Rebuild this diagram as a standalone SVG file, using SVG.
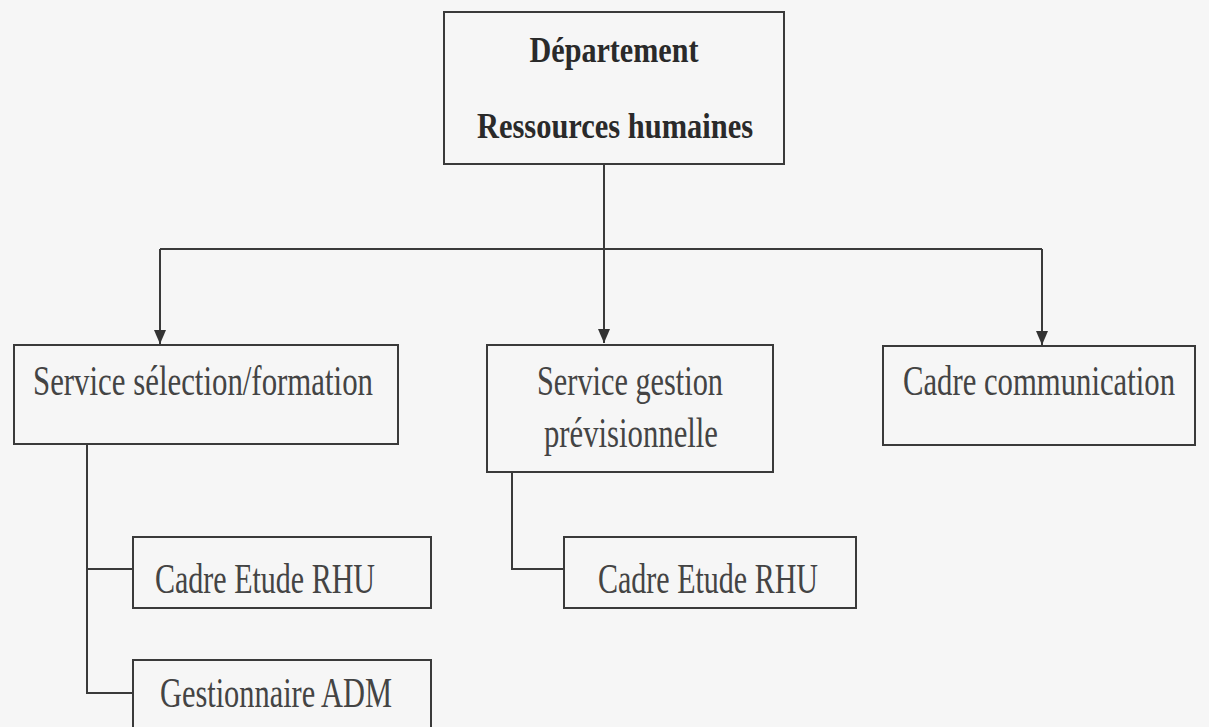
<svg xmlns="http://www.w3.org/2000/svg" width="1209" height="727" viewBox="0 0 1209 727">
  <defs>
    <marker id="arrow" viewBox="0 0 14 12" refX="14" refY="6" markerWidth="14" markerHeight="12" markerUnits="userSpaceOnUse" orient="auto">
      <path d="M0 0 L14 6 L0 12 Z" fill="#333"/>
    </marker>
    <style>
      .box { fill: #f6f6f6; stroke: #3a3a3a; stroke-width: 2; }
      .lbl { font-family: "Liberation Serif", "Times New Roman", serif; font-size: 42px; fill: #444; }
      .title { font-family: "Liberation Serif", "Times New Roman", serif; font-size: 35px; font-weight: bold; fill: #2a2a2a; }
      .conn { fill: none; stroke: #3a3a3a; stroke-width: 2; }
    </style>
  </defs>
  <rect width="1209" height="727" fill="#f6f6f6"/>

  <g id="connectors">
    <path class="conn" d="M604 164 V343" marker-end="url(#arrow)"/>
    <path class="conn" d="M160 249 H1042"/>
    <path class="conn" d="M160 249 V344" marker-end="url(#arrow)"/>
    <path class="conn" d="M1042 249 V345" marker-end="url(#arrow)"/>
    <path class="conn" d="M87 444 V693 H133"/>
    <path class="conn" d="M87 569 H133"/>
    <path class="conn" d="M512 472 V569 H564"/>
  </g>

  <g id="node-departement">
    <rect class="box" x="444" y="12" width="340" height="152"/>
    <text class="title" x="614" y="62" text-anchor="middle" textLength="169" lengthAdjust="spacingAndGlyphs">Département</text>
    <text class="title" x="615" y="138" text-anchor="middle" textLength="276" lengthAdjust="spacingAndGlyphs">Ressources humaines</text>
  </g>

  <g id="node-selection">
    <rect class="box" x="14" y="345" width="384" height="99"/>
    <text class="lbl" x="33" y="395" textLength="340" lengthAdjust="spacingAndGlyphs">Service sélection/formation</text>
  </g>

  <g id="node-gestion">
    <rect class="box" x="487" y="345" width="286" height="127"/>
    <text class="lbl" x="537" y="395" textLength="186" lengthAdjust="spacingAndGlyphs">Service gestion</text>
    <text class="lbl" x="544" y="447" textLength="174" lengthAdjust="spacingAndGlyphs">prévisionnelle</text>
  </g>

  <g id="node-communication">
    <rect class="box" x="883" y="346" width="312" height="99"/>
    <text class="lbl" x="903" y="395" textLength="272" lengthAdjust="spacingAndGlyphs">Cadre communication</text>
  </g>

  <g id="node-etude1">
    <rect class="box" x="133" y="537" width="298" height="71"/>
    <text class="lbl" x="155" y="593" textLength="220" lengthAdjust="spacingAndGlyphs">Cadre Etude RHU</text>
  </g>

  <g id="node-adm">
    <rect class="box" x="133" y="660" width="298" height="80"/>
    <text class="lbl" x="160" y="707" textLength="232" lengthAdjust="spacingAndGlyphs">Gestionnaire ADM</text>
  </g>

  <g id="node-etude2">
    <rect class="box" x="564" y="537" width="292" height="71"/>
    <text class="lbl" x="598" y="593" textLength="220" lengthAdjust="spacingAndGlyphs">Cadre Etude RHU</text>
  </g>
</svg>
